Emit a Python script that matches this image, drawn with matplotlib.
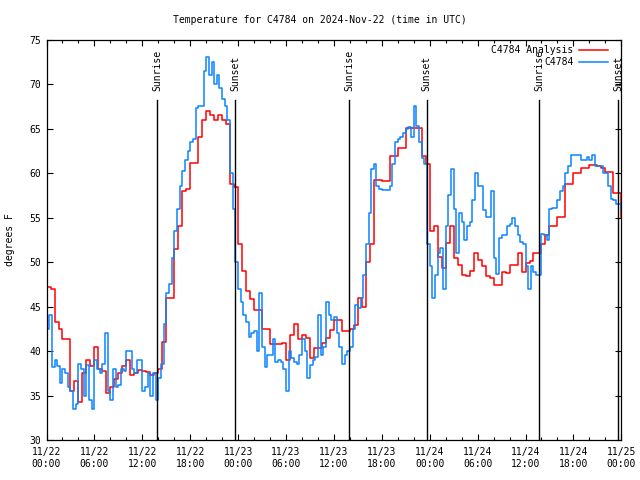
import matplotlib
matplotlib.use("Agg")
import matplotlib.pyplot as plt
import matplotlib.dates as mdates
import pandas as pd

# analysis (red), every 30 min from 11/22 00:00 UTC
analysis_temp = [
    47.2, 47, 43.3, 42.5, 41.3, 41.3, 35.5, 36.6, 34.3, 37.5, 39, 38.3, 40.5,
    38, 37.8, 35.3, 36, 36.8, 37.5, 38.3, 39, 37.3, 37.5, 37.9, 37.8,
    37.6, 37.3, 37.5, 38, 41, 46, 46, 51.5, 54, 58, 58.2, 61.1, 61.1, 64, 66,
    67, 66.5, 66, 66.5, 66, 65.5, 58.8, 58.4, 52,
    49, 46.7, 45.8, 44.6, 44.6, 42.5, 42.5, 40.8, 40.8, 40.8, 40.9, 39, 41.8,
    43, 41.3, 41.8, 41.5, 39.2, 40.3, 40.3, 40.9, 41.5, 42.4, 43.5,
    43.5, 42.2, 42.2, 42.5, 42.9, 46, 45, 50, 52, 59.2, 59.2, 59.1, 59.1,
    61.9, 61.9, 62.8, 62.8, 65.1, 65.1, 65.1, 65.1, 61.9, 61, 53.5,
    54, 50.6, 49.3, 52.1, 54, 50.5, 49.7, 48.5, 48.4, 49, 51, 50.2, 49.5,
    48.4, 48.2, 47.4, 47.4, 48.9, 48.8, 49.7, 49.7, 51, 48.9, 49.9,
    50.1, 51, 51, 52, 53, 54, 54, 55.1, 55.1, 58.8, 58.8, 60, 60, 60.6, 60.6,
    60.9, 60.9, 60.8, 60.6, 60.1, 60.1, 57.75, 57.75, 55.1,
]

# observations (blue), every 20 min
obs_temp = [
    42.5, 44, 38.2, 39, 38.3, 36.4, 38, 37.5, 36, 35.5, 33.5, 34, 38.5, 38,
    35, 38.4, 34.5, 33.5, 39, 38, 37.5, 38.5, 42, 35.5, 34.5, 38, 36, 36.2,
    38, 37.8, 40, 40, 38, 37.5, 39, 39, 35.5,
    36, 37.5, 35, 37.5, 34.5, 37, 38.5, 43, 46.5, 47.5, 50.5, 53.5, 56, 58.5,
    60.2, 61.5, 62.5, 63.5, 63.8, 67.3, 67.5, 67.5, 71.5, 73, 71, 72.5, 70,
    71, 69.5, 68.3, 67.5, 66, 60, 56, 50, 47,
    45.5, 44, 43.3, 41.6, 42, 42.3, 40, 46.5, 40.5, 38.2, 39.5, 39.5, 41.3,
    38.8, 39, 38.8, 38, 35.5, 40, 39.2, 38.8, 38.5, 39.6, 41.3, 40, 37, 38.4,
    39, 39.3, 44, 39.5, 40.5, 45.5, 44, 43.5, 43.8,
    42, 40.5, 38.5, 39.5, 40, 40.5, 42.5, 45.2, 44.8, 46, 48.5, 52, 55.5,
    60.5, 61, 58.5, 58.2, 58.1, 58.1, 58.1, 58.5, 61, 63.5, 63.8, 64, 64.5,
    65, 65.2, 64.1, 67.5, 65.3, 63.5, 61.7, 61, 52, 49.5,
    46, 48.5, 51, 51.6, 47, 54, 57.5, 60.5, 56, 51, 55.5, 54.5, 52.5, 54,
    54.5, 57, 60, 58.5, 58.5, 55.8, 55.1, 55.1, 58, 50.5, 48.6, 52.7, 53, 53,
    54, 54.3, 55, 54, 53, 52.2, 52, 49.5,
    47, 49.5, 48.9, 48.5, 48.5, 53.2, 53, 52.5, 56, 56.1, 56.1, 57, 58, 58.5,
    60, 60.8, 62, 62, 62, 62, 61.5, 61.5, 61.8, 61.5, 62, 60.8, 60.8, 60.8,
    60, 60, 58.5, 57.1, 57, 56.5, 56.5, 56,
]

sunrise = ["2024-11-22 13:53", "2024-11-23 13:54", "2024-11-24 13:45"]
sunset = ["2024-11-22 23:36", "2024-11-23 23:36", "2024-11-24 23:36"]

analysis_time = pd.date_range("2024-11-22 00:00", periods=len(analysis_temp), freq="30min")
obs_time = pd.date_range("2024-11-22 00:00", periods=len(obs_temp), freq="20min")

plt.rcParams["font.family"] = "DejaVu Sans Mono"
plt.rcParams["font.size"] = 7

fig = plt.figure(figsize=(6.4, 4.8), dpi=100)
ax = fig.add_axes([0.0727, 0.0833, 0.8981, 0.8344])

ax.plot(analysis_time, analysis_temp, color="#ff0000", lw=1.1, drawstyle="steps-post")
ax.plot(obs_time, obs_temp, color="#0a84ff", lw=1.1, drawstyle="steps-post")

# sunrise / sunset markers
for t in sunrise:
    t = pd.Timestamp(t)
    ax.axvline(t, ymin=0, ymax=0.85, color="black", lw=1)
    ax.text(t, 69.2, "Sunrise", rotation=90, ha="center", va="bottom")
for t in sunset:
    t = pd.Timestamp(t)
    ax.axvline(t, ymin=0, ymax=0.85, color="black", lw=1)
    ax.text(t, 69.2, "Sunset", rotation=90, ha="center", va="bottom")

ax.set_xlim(pd.Timestamp("2024-11-22 00:00"), pd.Timestamp("2024-11-25 00:00"))
ax.set_ylim(30, 75)
ax.xaxis.set_major_locator(mdates.HourLocator(byhour=[0, 6, 12, 18]))
ax.xaxis.set_minor_locator(mdates.HourLocator(interval=2))
ax.xaxis.set_major_formatter(mdates.DateFormatter("%m/%d\n%H:%M"))
ax.set_yticks(range(30, 76, 5))

ax.tick_params(which="both", direction="in", top=True, right=True, width=0.8)
ax.tick_params(which="major", length=4.5)
ax.tick_params(which="minor", length=2.5)
ax.tick_params(axis="x", pad=5)
ax.tick_params(axis="y", pad=4)
for s in ax.spines.values():
    s.set_linewidth(0.9)

# legend drawn by hand, gnuplot style
ax.text(0.917, 0.975, "C4784 Analysis", transform=ax.transAxes, ha="right", va="center")
ax.plot([0.927, 0.977], [0.975, 0.975], transform=ax.transAxes, color="#ff0000", lw=1.1)
ax.text(0.917, 0.943, "C4784", transform=ax.transAxes, ha="right", va="center")
ax.plot([0.927, 0.977], [0.943, 0.943], transform=ax.transAxes, color="#0a84ff", lw=1.1)

fig.text(0.5, 0.958, "Temperature for C4784 on 2024-Nov-22 (time in UTC)", ha="center", va="center")
fig.text(0.016, 0.5, "degrees F", rotation=90, ha="center", va="center")

fig.savefig("out.png", dpi=100)
